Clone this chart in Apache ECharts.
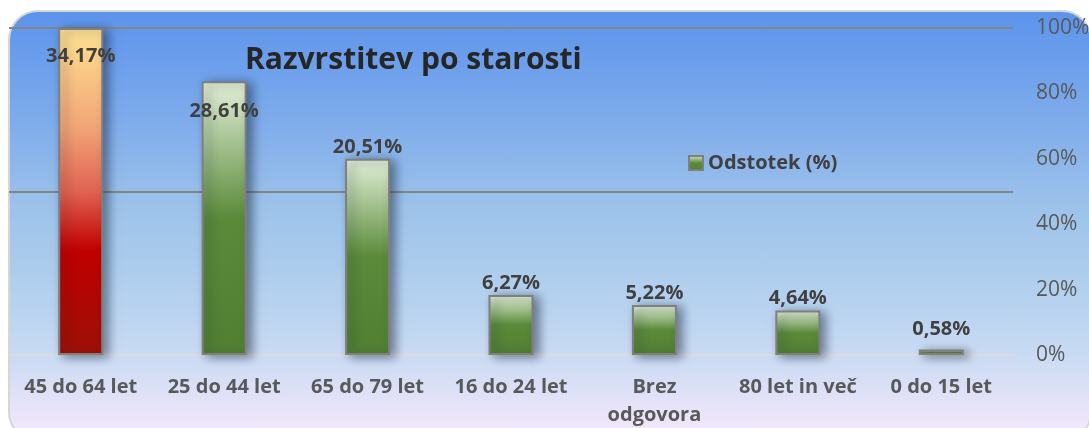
<!DOCTYPE html>
<html>
<head>
<meta charset="utf-8">
<script src="https://cdn.jsdelivr.net/npm/echarts@6/dist/echarts.min.js"></script>
<style>
  html, body { margin: 0; padding: 0; background: #fff; }
  #bg {
    position: absolute; left: 8px; top: 10px; width: 1084px; height: 432px;
    border: 2px solid #d6d6d6; border-radius: 30px; box-sizing: border-box;
    background: linear-gradient(to bottom, #5c94ec 0%, #7eabeb 25%, #9cc2ea 45%, #b6d2ef 68%, #cddcf4 82%, #e6e3f8 92%, #f5e9fb 100%);
  }
  #chart { position: absolute; left: 0; top: 0; width: 1089px; height: 428px; }
</style>
</head>
<body>
<div id="bg"></div>
<div id="chart"></div>
<script>
// Razvrstitev po starosti - odstotek anketirancev
const categories = ['45 do 64 let', '25 do 44 let', '65 do 79 let', '16 do 24 let', 'Brez\nodgovora', '80 let in več', '0 do 15 let']
const shares = [34.17, 28.61, 20.51, 6.27, 5.22, 4.64, 0.58]
const axisTicks = [0, 20, 40, 60, 80, 100]

const font = '"Open Sans", Lato, sans-serif'

const green = new echarts.graphic.LinearGradient(0, 0, 0, 1, [
  { offset: 0, color: '#e3f0d9' },
  { offset: 0.5, color: '#5a8a3a' },
  { offset: 1, color: '#517f33' }
])
const red = new echarts.graphic.LinearGradient(0, 0, 0, 1, [
  { offset: 0, color: '#ffe391' },
  { offset: 0.3, color: '#f2a677' },
  { offset: 0.5, color: '#e06352' },
  { offset: 0.68, color: '#c00000' },
  { offset: 1, color: '#9d1008' }
])

// label placement per bar (first two sit inside the bar)
const labelPos = [
  { position: 'insideTop', distance: 18 },
  { position: 'insideTop', distance: 20 },
  { position: 'top', distance: 1 },
  { position: 'top', distance: 2 },
  { position: 'top', distance: 2 },
  { position: 'top', distance: 2 },
  { position: 'top', distance: 10 }
]

const chart = echarts.init(document.getElementById('chart'))
chart.setOption({
  backgroundColor: 'transparent',
  animation: false,
  title: {
    text: 'Razvrstitev po starosti',
    left: 240,
    top: 40,
    textStyle: { fontFamily: font, fontWeight: 'bold', fontSize: 30, color: '#262626' }
  },
  legend: {
    left: 683,
    top: 148,
    icon: 'rect',
    itemWidth: 14,
    itemHeight: 14,
    itemGap: 4,
    textStyle: { fontFamily: font, fontWeight: 'bold', fontSize: 20, color: '#404040' },
    data: ['Odstotek (%)']
  },
  grid: { left: 9, right: 76, top: 28, bottom: 73, outerBoundsMode: 'none', containLabel: false },
  xAxis: {
    type: 'category',
    data: categories,
    axisTick: { show: false },
    axisLine: { lineStyle: { color: '#dcdcdc', width: 2 } },
    axisLabel: {
      interval: 0,
      fontFamily: font, fontWeight: 'bold', fontSize: 20, color: '#595959',
      margin: 18, lineHeight: 28
    }
  },
  yAxis: [
    {
      type: 'value', min: 0, max: 'dataMax', show: false, splitLine: { show: false }
    },
    {
      type: 'value', position: 'right', min: 0, max: 100, interval: 20,
      axisLine: { show: false }, axisTick: { show: false }, splitLine: { show: false },
      axisLabel: {
        formatter: v => axisTicks.includes(v) ? v + '%' : '',
        fontFamily: font, fontSize: 21, color: '#595959', margin: 23
      }
    },
    {
      type: 'value', position: 'right', min: 0, max: 100, interval: 50,
      axisLine: { show: false }, axisTick: { show: false }, axisLabel: { show: false },
      splitLine: { show: true, lineStyle: { color: '#858585', width: 2 } }
    }
  ],
  series: [{
    name: 'Odstotek (%)',
    type: 'bar',
    yAxisIndex: 0,
    barWidth: 45,
    itemStyle: {
      color: green,
      borderColor: '#7f7f7f',
      borderWidth: 2,
      shadowBlur: 10,
      shadowColor: 'rgba(30,40,60,0.55)',
      shadowOffsetX: 5,
      shadowOffsetY: 2
    },
    label: {
      show: true,
      fontFamily: font, fontWeight: 'bold', fontSize: 20, color: '#404040',
      formatter: p => p.value.toFixed(2).replace('.', ',') + '%'
    },
    data: shares.map((v, i) => ({
      value: v,
      itemStyle: i === 0 ? { color: red } : undefined,
      label: labelPos[i]
    }))
  }]
})
</script>
</body>
</html>
